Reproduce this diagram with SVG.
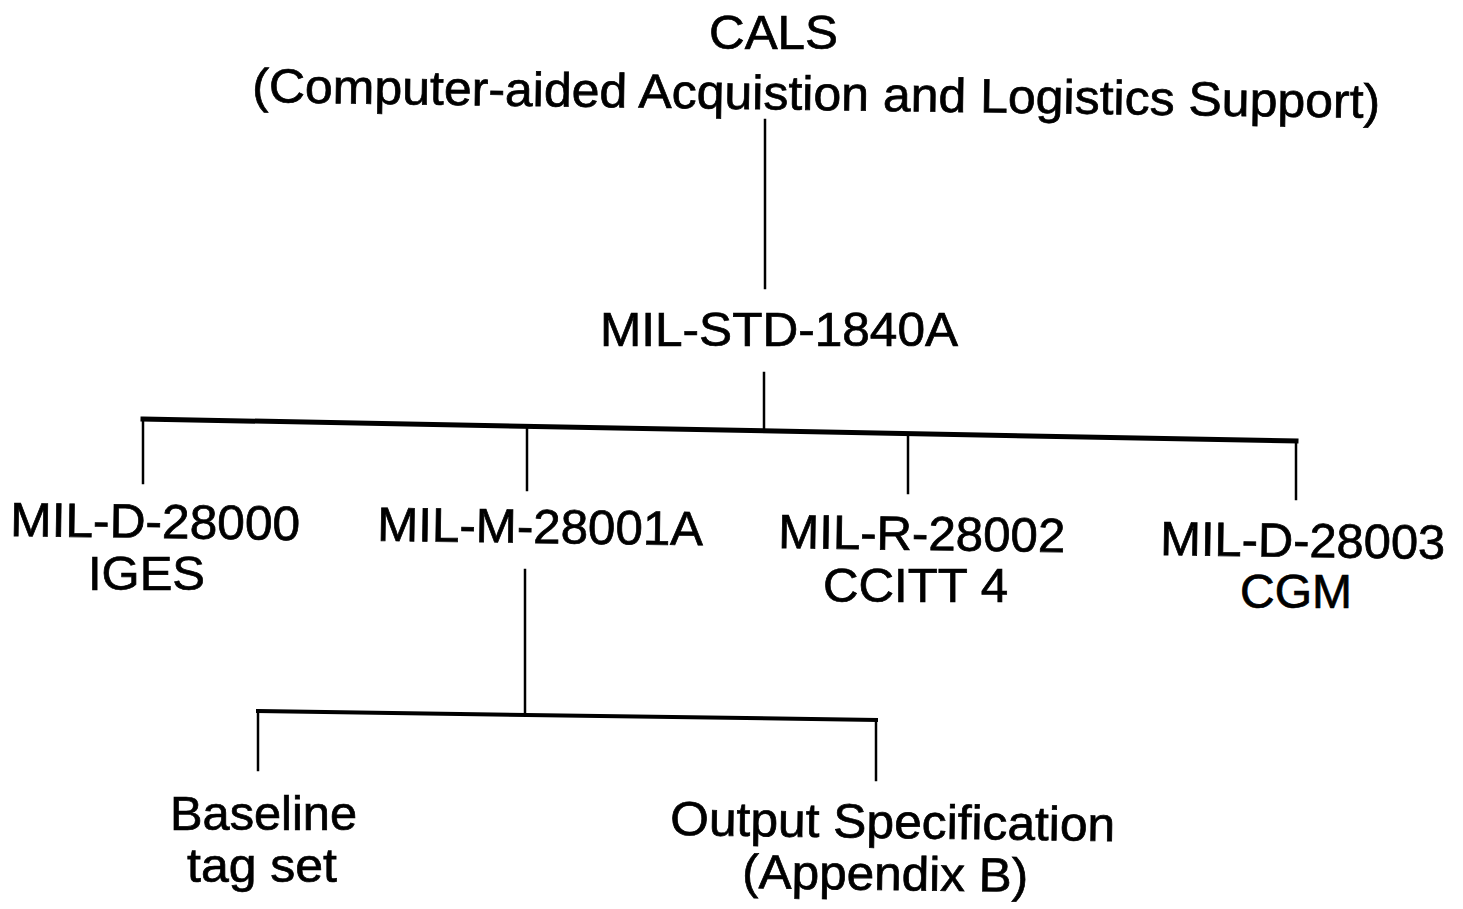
<svg xmlns="http://www.w3.org/2000/svg" width="1463" height="909" viewBox="0 0 1463 909">
<style>
text{font-family:"Liberation Sans",Arial,Helvetica,sans-serif;font-size:48px;fill:#000;stroke:#000;stroke-width:0.7px;}
.c{stroke:#000;stroke-linecap:square;fill:none;}
.v{stroke-width:2.5;}
.h{stroke-width:5;}
.h2{stroke-width:4;}
</style>
<rect width="1463" height="909" fill="#fff"/>
<g id="connectors">
<line class="c v" x1="765" y1="120" x2="765" y2="288"/>
<line class="c v" x1="764" y1="373" x2="764" y2="429"/>
<line class="c h" x1="143" y1="419" x2="1296" y2="441"/>
<line class="c v" x1="143" y1="419" x2="143" y2="483"/>
<line class="c v" x1="527" y1="427" x2="527" y2="490"/>
<line class="c v" x1="908" y1="434" x2="908" y2="493"/>
<line class="c v" x1="1296" y1="441" x2="1296" y2="499"/>
<line class="c v" x1="525" y1="570" x2="525" y2="713"/>
<line class="c h2" x1="258" y1="711" x2="876" y2="720"/>
<line class="c v" x1="258" y1="711" x2="258" y2="770"/>
<line class="c v" x1="876" y1="720" x2="876" y2="780"/>
</g>
<g id="cals">
<text x="709" y="49" textLength="129" lengthAdjust="spacingAndGlyphs">CALS</text>
<text x="252" y="110" textLength="1128" lengthAdjust="spacingAndGlyphs" transform="rotate(0.8 816 110)">(Computer-aided Acquistion and Logistics Support)</text>
</g>
<g id="mil-std-1840a">
<text x="600" y="346" textLength="358" lengthAdjust="spacingAndGlyphs">MIL-STD-1840A</text>
</g>
<g id="mil-d-28000">
<text x="10" y="538" textLength="290" lengthAdjust="spacingAndGlyphs" transform="rotate(0.8 155 538)">MIL-D-28000</text>
<text x="88" y="590" textLength="117" lengthAdjust="spacingAndGlyphs">IGES</text>
</g>
<g id="mil-m-28001a">
<text x="377" y="543" textLength="326" lengthAdjust="spacingAndGlyphs" transform="rotate(0.8 540 543)">MIL-M-28001A</text>
</g>
<g id="mil-r-28002">
<text x="778" y="550" textLength="287" lengthAdjust="spacingAndGlyphs" transform="rotate(0.8 921 550)">MIL-R-28002</text>
<text x="823" y="602" textLength="185" lengthAdjust="spacingAndGlyphs">CCITT 4</text>
</g>
<g id="mil-d-28003">
<text x="1160" y="557" textLength="285" lengthAdjust="spacingAndGlyphs" transform="rotate(0.8 1302 557)">MIL-D-28003</text>
<text x="1240" y="608" textLength="112" lengthAdjust="spacingAndGlyphs">CGM</text>
</g>
<g id="baseline-tag-set">
<text x="170" y="830" textLength="187" lengthAdjust="spacingAndGlyphs">Baseline</text>
<text x="187" y="882" textLength="150" lengthAdjust="spacingAndGlyphs">tag set</text>
</g>
<g id="output-specification">
<text x="670" y="838" textLength="445" lengthAdjust="spacingAndGlyphs" transform="rotate(0.8 892 838)">Output Specification</text>
<text x="742" y="890" textLength="286" lengthAdjust="spacingAndGlyphs" transform="rotate(0.8 885 890)">(Appendix B)</text>
</g>
</svg>
